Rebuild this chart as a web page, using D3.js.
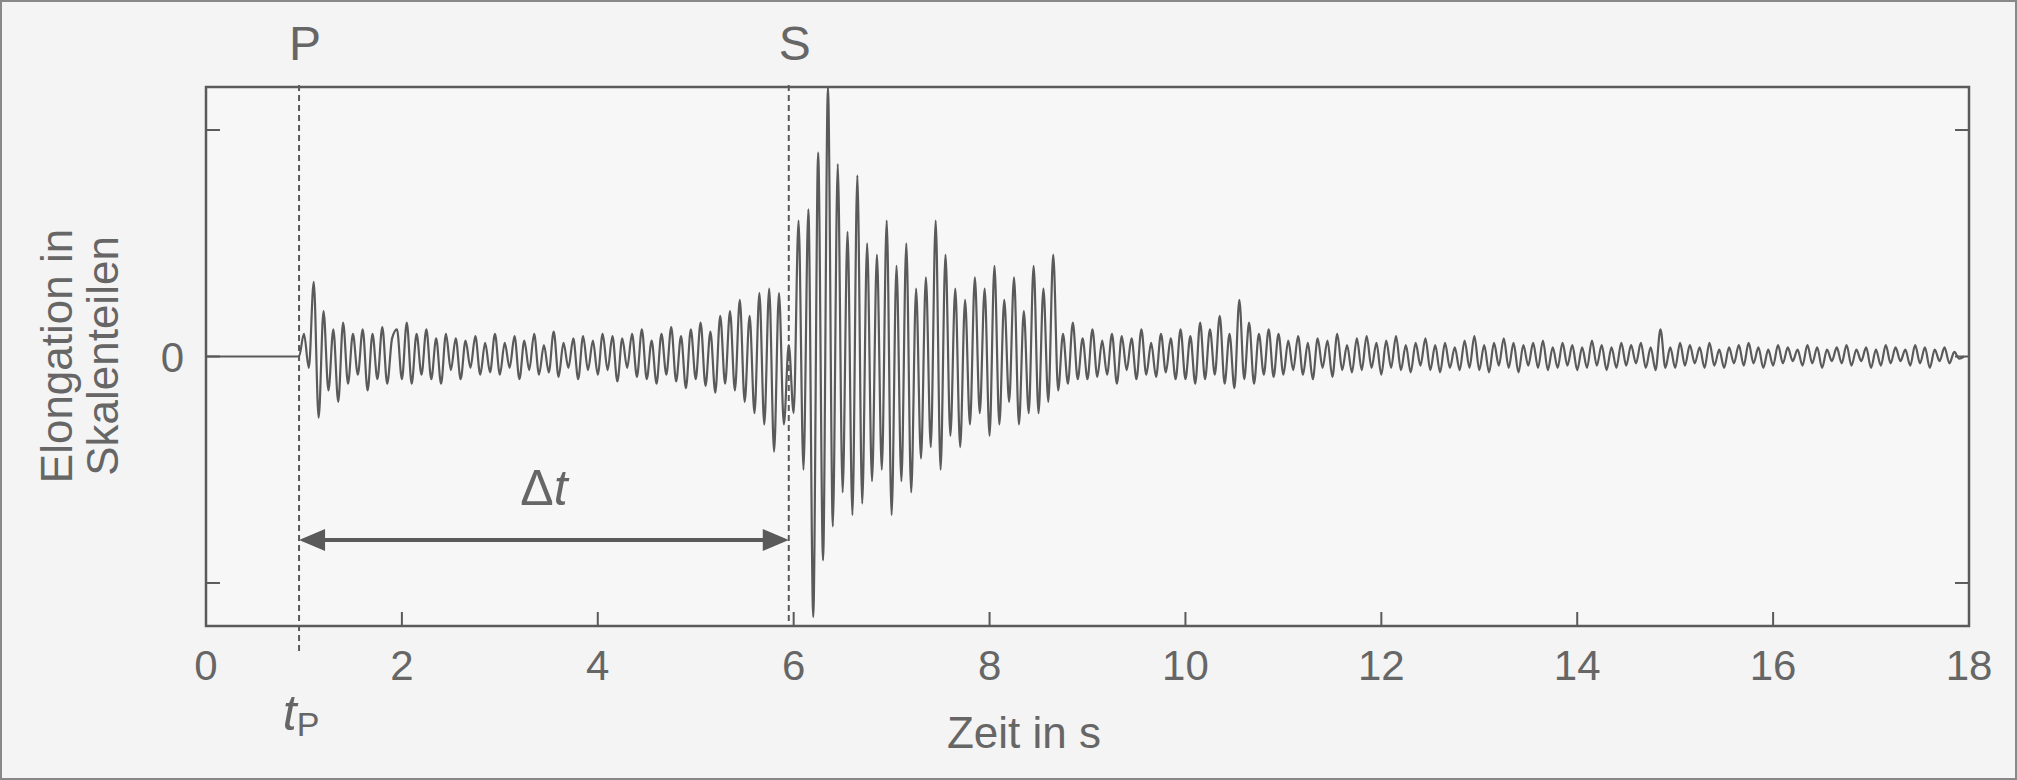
<!DOCTYPE html>
<html><head><meta charset="utf-8">
<script src="https://cdn.jsdelivr.net/npm/d3@7"></script>
<style>body{margin:0;background:#fff}svg{display:block}text{font-family:"Liberation Sans",Arial,sans-serif;fill:#666}</style>
</head><body><svg id="c" width="2017" height="780"></svg>
<script>
const xTicks=[0,2,4,6,8,10,12,14,16,18];
const yTicks=[-1,0,1];
const tP=0.95, tS=5.95;
const t0=0.95, dt=0.05;
const elong=[
0,0.1,-0.05,0.33,-0.27,0.2,-0.15,0.12,-0.2,0.15,-0.12,0.1,-0.08,0.12,-0.15,0.1,-0.1,0.13,-0.12,0.08,
0.12,-0.1,0.15,-0.12,0.1,-0.08,0.12,-0.1,0.08,-0.12,0.1,-0.06,0.08,-0.1,0.07,-0.05,0.09,-0.08,0.06,-0.07,
0.1,-0.08,0.06,-0.05,0.09,-0.1,0.07,-0.06,0.1,-0.08,0.05,-0.07,0.11,-0.09,0.06,-0.05,0.08,-0.1,0.09,-0.06,
0.07,-0.08,0.1,-0.06,0.09,-0.11,0.08,-0.05,0.1,-0.09,0.12,-0.1,0.07,-0.12,0.1,-0.08,0.13,-0.11,0.09,-0.14,
0.12,-0.1,0.15,-0.13,0.11,-0.16,0.18,-0.12,0.2,-0.15,0.25,-0.2,0.18,-0.25,0.28,-0.3,0.3,-0.42,0.28,-0.3,
0.05,-0.25,0.6,-0.5,0.65,-1.15,0.9,-0.9,1.19,-0.75,0.85,-0.6,0.55,-0.7,0.8,-0.65,0.5,-0.55,0.45,-0.5,
0.6,-0.7,0.4,-0.55,0.5,-0.6,0.3,-0.45,0.35,-0.4,0.6,-0.5,0.45,-0.35,0.3,-0.4,0.25,-0.3,0.35,-0.25,
0.3,-0.35,0.4,-0.3,0.25,-0.2,0.35,-0.3,0.2,-0.25,0.4,-0.25,0.3,-0.2,0.45,-0.15,0.1,-0.12,0.15,-0.1,
0.08,-0.1,0.12,-0.09,0.07,-0.08,0.1,-0.12,0.09,-0.06,0.08,-0.1,0.12,-0.08,0.06,-0.09,0.1,-0.07,0.08,-0.1,
0.12,-0.1,0.09,-0.12,0.15,-0.1,0.12,-0.08,0.18,-0.12,0.1,-0.14,0.25,-0.1,0.15,-0.12,0.1,-0.08,0.12,-0.09,
0.1,-0.08,0.07,-0.06,0.09,-0.08,0.06,-0.1,0.08,-0.05,0.07,-0.09,0.1,-0.06,0.05,-0.07,0.08,-0.06,0.09,-0.05,
0.06,-0.08,0.07,-0.05,0.09,-0.06,0.05,-0.07,0.06,-0.04,0.08,-0.06,0.05,-0.07,0.06,-0.05,0.04,-0.06,0.07,-0.05,
0.09,-0.06,0.05,-0.07,0.06,-0.04,0.08,-0.05,0.06,-0.07,0.05,-0.04,0.06,-0.05,0.07,-0.06,0.04,-0.05,0.06,-0.04,
0.05,-0.06,0.04,-0.05,0.07,-0.04,0.05,-0.06,0.04,-0.05,0.06,-0.04,0.05,-0.03,0.06,-0.05,0.04,-0.06,0.12,-0.05,
0.04,-0.05,0.06,-0.04,0.05,-0.03,0.04,-0.05,0.06,-0.04,0.03,-0.05,0.04,-0.03,0.05,-0.04,0.06,-0.03,0.04,-0.05,
0.03,-0.04,0.05,-0.03,0.04,-0.02,0.03,-0.04,0.05,-0.03,0.04,-0.05,0.03,-0.02,0.04,-0.03,0.05,-0.04,0.03,-0.02,
0.04,-0.05,0.03,-0.04,0.05,-0.03,0.04,-0.02,0.03,-0.04,0.05,-0.03,0.04,-0.05,0.03,-0.02,0.04,-0.03,0.02,-0.01,0];
const pts=[[0,0],...elong.map((v,i)=>[t0+i*dt,v])].filter(d=>d[0]<=18);

const svg=d3.select("#c");
const L=206,R=1969,T=87,B=626;
const x=d3.scaleLinear().domain([0,18]).range([L,R]);
const y=d3.scaleLinear().domain([-1.19,1.19]).range([B,T]);
const ink="#5a5a5a";
svg.append("rect").attr("x",1).attr("y",1).attr("width",2015).attr("height",778).attr("fill","#f4f4f4").attr("stroke","#888").attr("stroke-width",2);
svg.append("rect").attr("x",L).attr("y",T).attr("width",R-L).attr("height",B-T).attr("fill","#f7f7f7").attr("stroke",ink).attr("stroke-width",2.5);
svg.append("defs").append("clipPath").attr("id","cp").append("rect").attr("x",L).attr("y",T).attr("width",R-L).attr("height",B-T);
xTicks.forEach(t=>{svg.append("line").attr("x1",x(t)).attr("x2",x(t)).attr("y1",B).attr("y2",B-14).attr("stroke",ink).attr("stroke-width",2);
 svg.append("text").attr("x",x(t)).attr("y",B+54).attr("text-anchor","middle").attr("font-size",42).text(t);});
yTicks.forEach(t=>{[[L,L+14],[R,R-14]].forEach(([a,b])=>svg.append("line").attr("x1",a).attr("x2",b).attr("y1",y(t)).attr("y2",y(t)).attr("stroke",ink).attr("stroke-width",2));});
svg.append("text").attr("x",L-22).attr("y",y(0)+15).attr("text-anchor","end").attr("font-size",42).text("0");
svg.append("path").datum(pts).attr("clip-path","url(#cp)").attr("fill","none").attr("stroke",ink).attr("stroke-width",2.2)
 .attr("d",d3.line().x(d=>x(d[0])).y(d=>y(d[1])).curve(d3.curveMonotoneX));
[[tP,"P",655],[tS,"S",B]].forEach(([t,l,y2])=>{svg.append("line").attr("x1",x(t)).attr("x2",x(t)).attr("y1",T-2).attr("y2",y2).attr("stroke",ink).attr("stroke-width",2).attr("stroke-dasharray","6,4");
 svg.append("text").attr("x",x(t)+6).attr("y",60).attr("text-anchor","middle").attr("font-size",48).text(l);});
const ay=540;
svg.append("line").attr("x1",x(tP)+20).attr("x2",x(tS)-20).attr("y1",ay).attr("y2",ay).attr("stroke",ink).attr("stroke-width",4);
svg.append("path").attr("d",`M${x(tP)},${ay}l26,-11v22z`).attr("fill",ink);
svg.append("path").attr("d",`M${x(tS)},${ay}l-26,-11v22z`).attr("fill",ink);
const dtT=svg.append("text").attr("x",(x(tP)+x(tS))/2).attr("y",505).attr("text-anchor","middle").attr("font-size",50);
dtT.append("tspan").text("Δ");dtT.append("tspan").attr("font-style","italic").text("t");
const tp=svg.append("text").attr("x",x(tP)+2).attr("y",730).attr("text-anchor","middle").attr("font-size",50);
tp.append("tspan").attr("font-style","italic").text("t");tp.append("tspan").attr("font-size",34).attr("dy",6).text("P");
svg.append("text").attr("x",1024).attr("y",748).attr("text-anchor","middle").attr("font-size",44).text("Zeit in s");
svg.append("text").attr("transform","translate(72,356) rotate(-90)").attr("text-anchor","middle").attr("font-size",44).text("Elongation in");
svg.append("text").attr("transform","translate(118,356) rotate(-90)").attr("text-anchor","middle").attr("font-size",44).text("Skalenteilen");
</script></body></html>
